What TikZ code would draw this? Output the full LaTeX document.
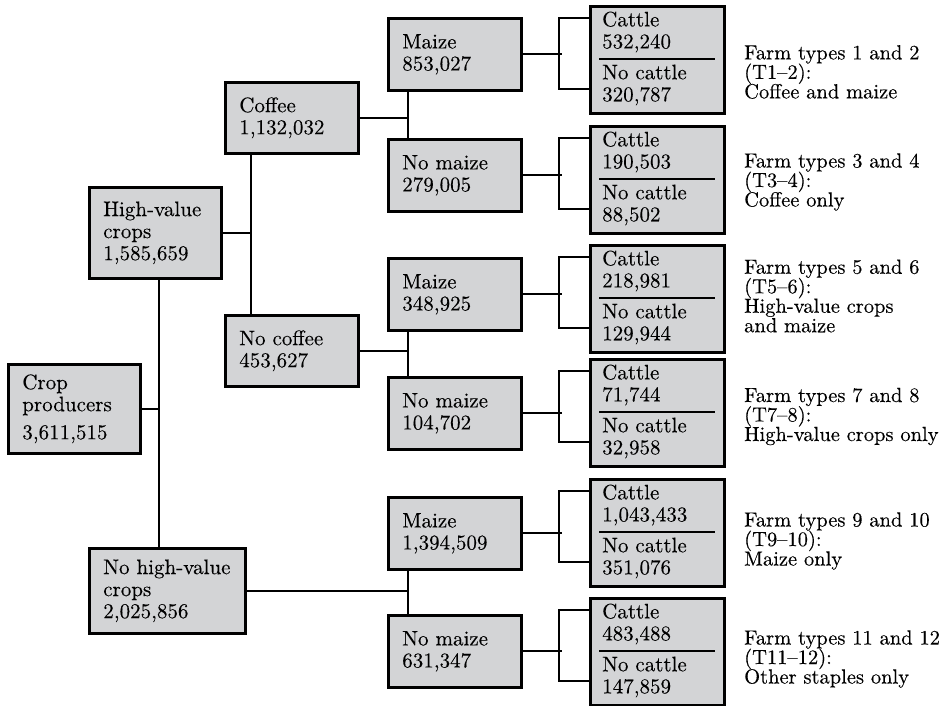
\documentclass[tikz,border=0pt]{standalone}
\usepackage{fontspec}
\setmainfont{lmroman10-regular.otf}[FakeBold=0.2]
\usetikzlibrary{calc}
\definecolor{boxgray}{RGB}{211,212,214}
\newcommand\tightlines{\fontsize{20.5}{19.5}\selectfont\setlength{\lineskiplimit}{-100pt}}
\newcommand\boxlines{\fontsize{21}{22}\selectfont}
\begin{document}
\begin{tikzpicture}[x=1pt,y=-1pt,
  box/.style={draw=black, line width=2.6pt, fill=boxgray, anchor=north west,
    inner xsep=14pt, inner ysep=0pt, align=left, font=\boxlines},
  cbox/.style={draw=black, line width=2.6pt, fill=boxgray, anchor=north west,
    inner sep=0pt, minimum width=134pt, minimum height=107pt},
  txt/.style={align=left, anchor=west, inner sep=0pt, font=\boxlines},
  lbl/.style={align=left, anchor=west, inner sep=0pt, font=\tightlines},
  link/.style={line width=2.2pt},
  sepline/.style={line width=2.6pt}]
\useasboundingbox (0,0) rectangle (948,705);

% level boxes
\node[box, minimum width=132pt, minimum height=89pt, text width=104pt] (crop) at (7,363) {Crop\\producers\\[6pt]3,611,515};
\node[box, minimum width=132pt, minimum height=91pt, text width=104pt] (hv) at (88,186) {High-value\\crops\\1,585,659};
\node[box, minimum width=156pt, minimum height=85pt, text width=128pt] (nhv) at (88,547) {No high-value\\crops\\2,025,856};
\node[box, minimum width=133pt, minimum height=71pt, text width=105pt] (coffee) at (224,81) {Coffee\\1,132,032};
\node[box, minimum width=133pt, minimum height=71pt, text width=105pt] (nocoffee) at (224,314) {No coffee\\453,627};

\node[box, minimum width=133pt, minimum height=72pt, text width=105pt] (m1) at (387,17) {Maize\\853,027};
\node[box, minimum width=133pt, minimum height=72pt, text width=105pt] (nm1) at (387,138) {No maize\\279,005};
\node[box, minimum width=133pt, minimum height=72pt, text width=105pt] (m2) at (387,257) {Maize\\348,925};
\node[box, minimum width=133pt, minimum height=72pt, text width=105pt] (nm2) at (387,376) {No maize\\104,702};
\node[box, minimum width=133pt, minimum height=72pt, text width=105pt] (m3) at (387,496) {Maize\\1,394,509};
\node[box, minimum width=133pt, minimum height=72pt, text width=105pt] (nm3) at (387,614) {No maize\\631,347};

% cattle boxes
\foreach \n/\t/\ca/\cb in {c1/5/{532,240}/{320,787}, c2/125/{190,503}/{88,502}, c3/244/{218,981}/{129,944},
  c4/358/{71,744}/{32,958}, c5/478/{1,043,433}/{351,076}, c6/597/{483,488}/{147,859}}{
  \node[cbox] (\n) at (589,\t) {};
  \node[txt] (\n a) at ($(\n.north west)+(13,27)$) {Cattle\\\ca};
  \node[txt] (\n b) at ($(\n.north west)+(13,80)$) {No cattle\\\cb};
  \draw[sepline] ($(\n.north west)+(10,54)$) -- ($(\n.north east)+(-11,54)$);
  \draw[link] ($(\n.north west)+(0,13)$) -- ++(-30,0) |- ($(\n.north west)+(0,84)$);
}

% connectors
\coordinate (jh) at ($(hv.south west)+(71,0)$);
\draw[link] (jh) -- (jh |- nhv.north);
\draw[link] (crop.east) -- (crop.east -| jh);

\coordinate (jc) at ($(coffee.south west)+(27,0)$);
\draw[link] (jc) -- (jc |- nocoffee.north);
\draw[link] (hv.east) -- (hv.east -| jc);

\coordinate (ja) at ($(m1.south west)+(21,0)$);
\draw[link] (ja) -- (ja |- nm1.north);
\draw[link] (coffee.east) -- (coffee.east -| ja);

\coordinate (jb) at ($(m2.south west)+(21,0)$);
\draw[link] (jb) -- (jb |- nm2.north);
\draw[link] (nocoffee.east) -- (nocoffee.east -| jb);

\coordinate (jd) at ($(m3.south west)+(21,0)$);
\draw[link] (jd) -- (jd |- nm3.north);
\draw[link] (nhv.east) -- (nhv.east -| jd);

\foreach \m in {m1,nm1,m2,nm2,m3,nm3}{
  \draw[link] (\m.east) -- ++(39,0);
}

% labels
\node[lbl] (l1) at (744,72) {Farm types 1 and 2\\(T1--2):\\Coffee and maize};
\node[lbl] (l2) at (744,182) {Farm types 3 and 4\\(T3--4):\\Coffee only};
\node[lbl] (l3) at (744,296) {Farm types 5 and 6\\(T5--6):\\High-value crops\\and maize};
\node[lbl] (l4) at (744,416.5) {Farm types 7 and 8\\(T7--8):\\High-value crops only};
\node[lbl] (l5) at (744,541) {Farm types 9 and 10\\(T9--10):\\Maize only};
\node[lbl] (l6) at (744,659) {Farm types 11 and 12\\(T11--12):\\Other staples only};
\end{tikzpicture}
\end{document}
